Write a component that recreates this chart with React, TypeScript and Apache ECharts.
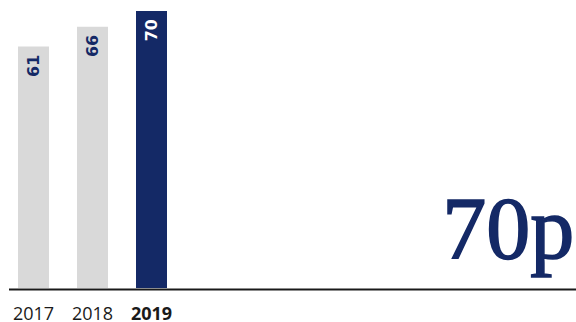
import React, { useEffect, useRef } from "react";
import * as echarts from "echarts";

const categories = ["2017", "2018", "2019"];
const values = [61, 66, 70];
const highlightIndex = 2;
const bigLabel = "70p";

const NAVY = "#142966";
const GREY = "#d9d9d9";

export default function App() {
  const ref = useRef<HTMLDivElement>(null);
  useEffect(() => {
    if (!ref.current) return;
    const chart = echarts.init(ref.current, null, { renderer: "svg" });
    chart.setOption({
      animation: false,
      grid: { left: 4, top: 11, width: 177, bottom: 33 },
      xAxis: {
        type: "category",
        data: categories,
        axisLine: { show: false },
        axisTick: { show: false },
        axisLabel: {
          margin: 18,
          formatter: (v: string, i: number) => (i === highlightIndex ? `{b|${v}}` : `{n|${v}}`),
          rich: {
            n: { fontFamily: "Open Sans", fontSize: 18, lineHeight: 14, color: "#1a1a1a" },
            b: { fontFamily: "Open Sans", fontSize: 18, lineHeight: 14, fontWeight: "bold", color: "#1a1a1a" },
          },
        },
      },
      yAxis: { type: "value", min: 0, max: 70, show: false, splitLine: { show: false } },
      series: [
        {
          type: "bar",
          barWidth: 31,
          data: values.map((v, i) => ({
            value: v,
            itemStyle: { color: i === highlightIndex ? NAVY : GREY },
            label: { color: i === highlightIndex ? "#ffffff" : NAVY },
          })),
          label: {
            show: true,
            position: "insideTop",
            rotate: 90,
            align: "right",
            verticalAlign: "middle",
            distance: 8,
            fontFamily: "DejaVu Sans",
            fontWeight: "bold",
            fontSize: 16,
          },
        },
      ],
      graphic: [
        {
          type: "line",
          shape: { x1: 9, y1: 289.5, x2: 576, y2: 289.5 },
          style: { stroke: "#1a1a1a", lineWidth: 2 },
          z: 10,
        },
        {
          type: "text",
          right: 1,
          top: 184,
          style: {
            text: bigLabel,
            font: '88px "Liberation Serif"',
            fill: NAVY,
            stroke: NAVY,
            lineWidth: 1.6,
          },
        },
      ],
    });
    return () => chart.dispose();
  }, []);
  return (
    <div
      ref={ref}
      style={{ position: "absolute", left: 0, top: 0, width: 576, height: 322 }}
    />
  );
}
